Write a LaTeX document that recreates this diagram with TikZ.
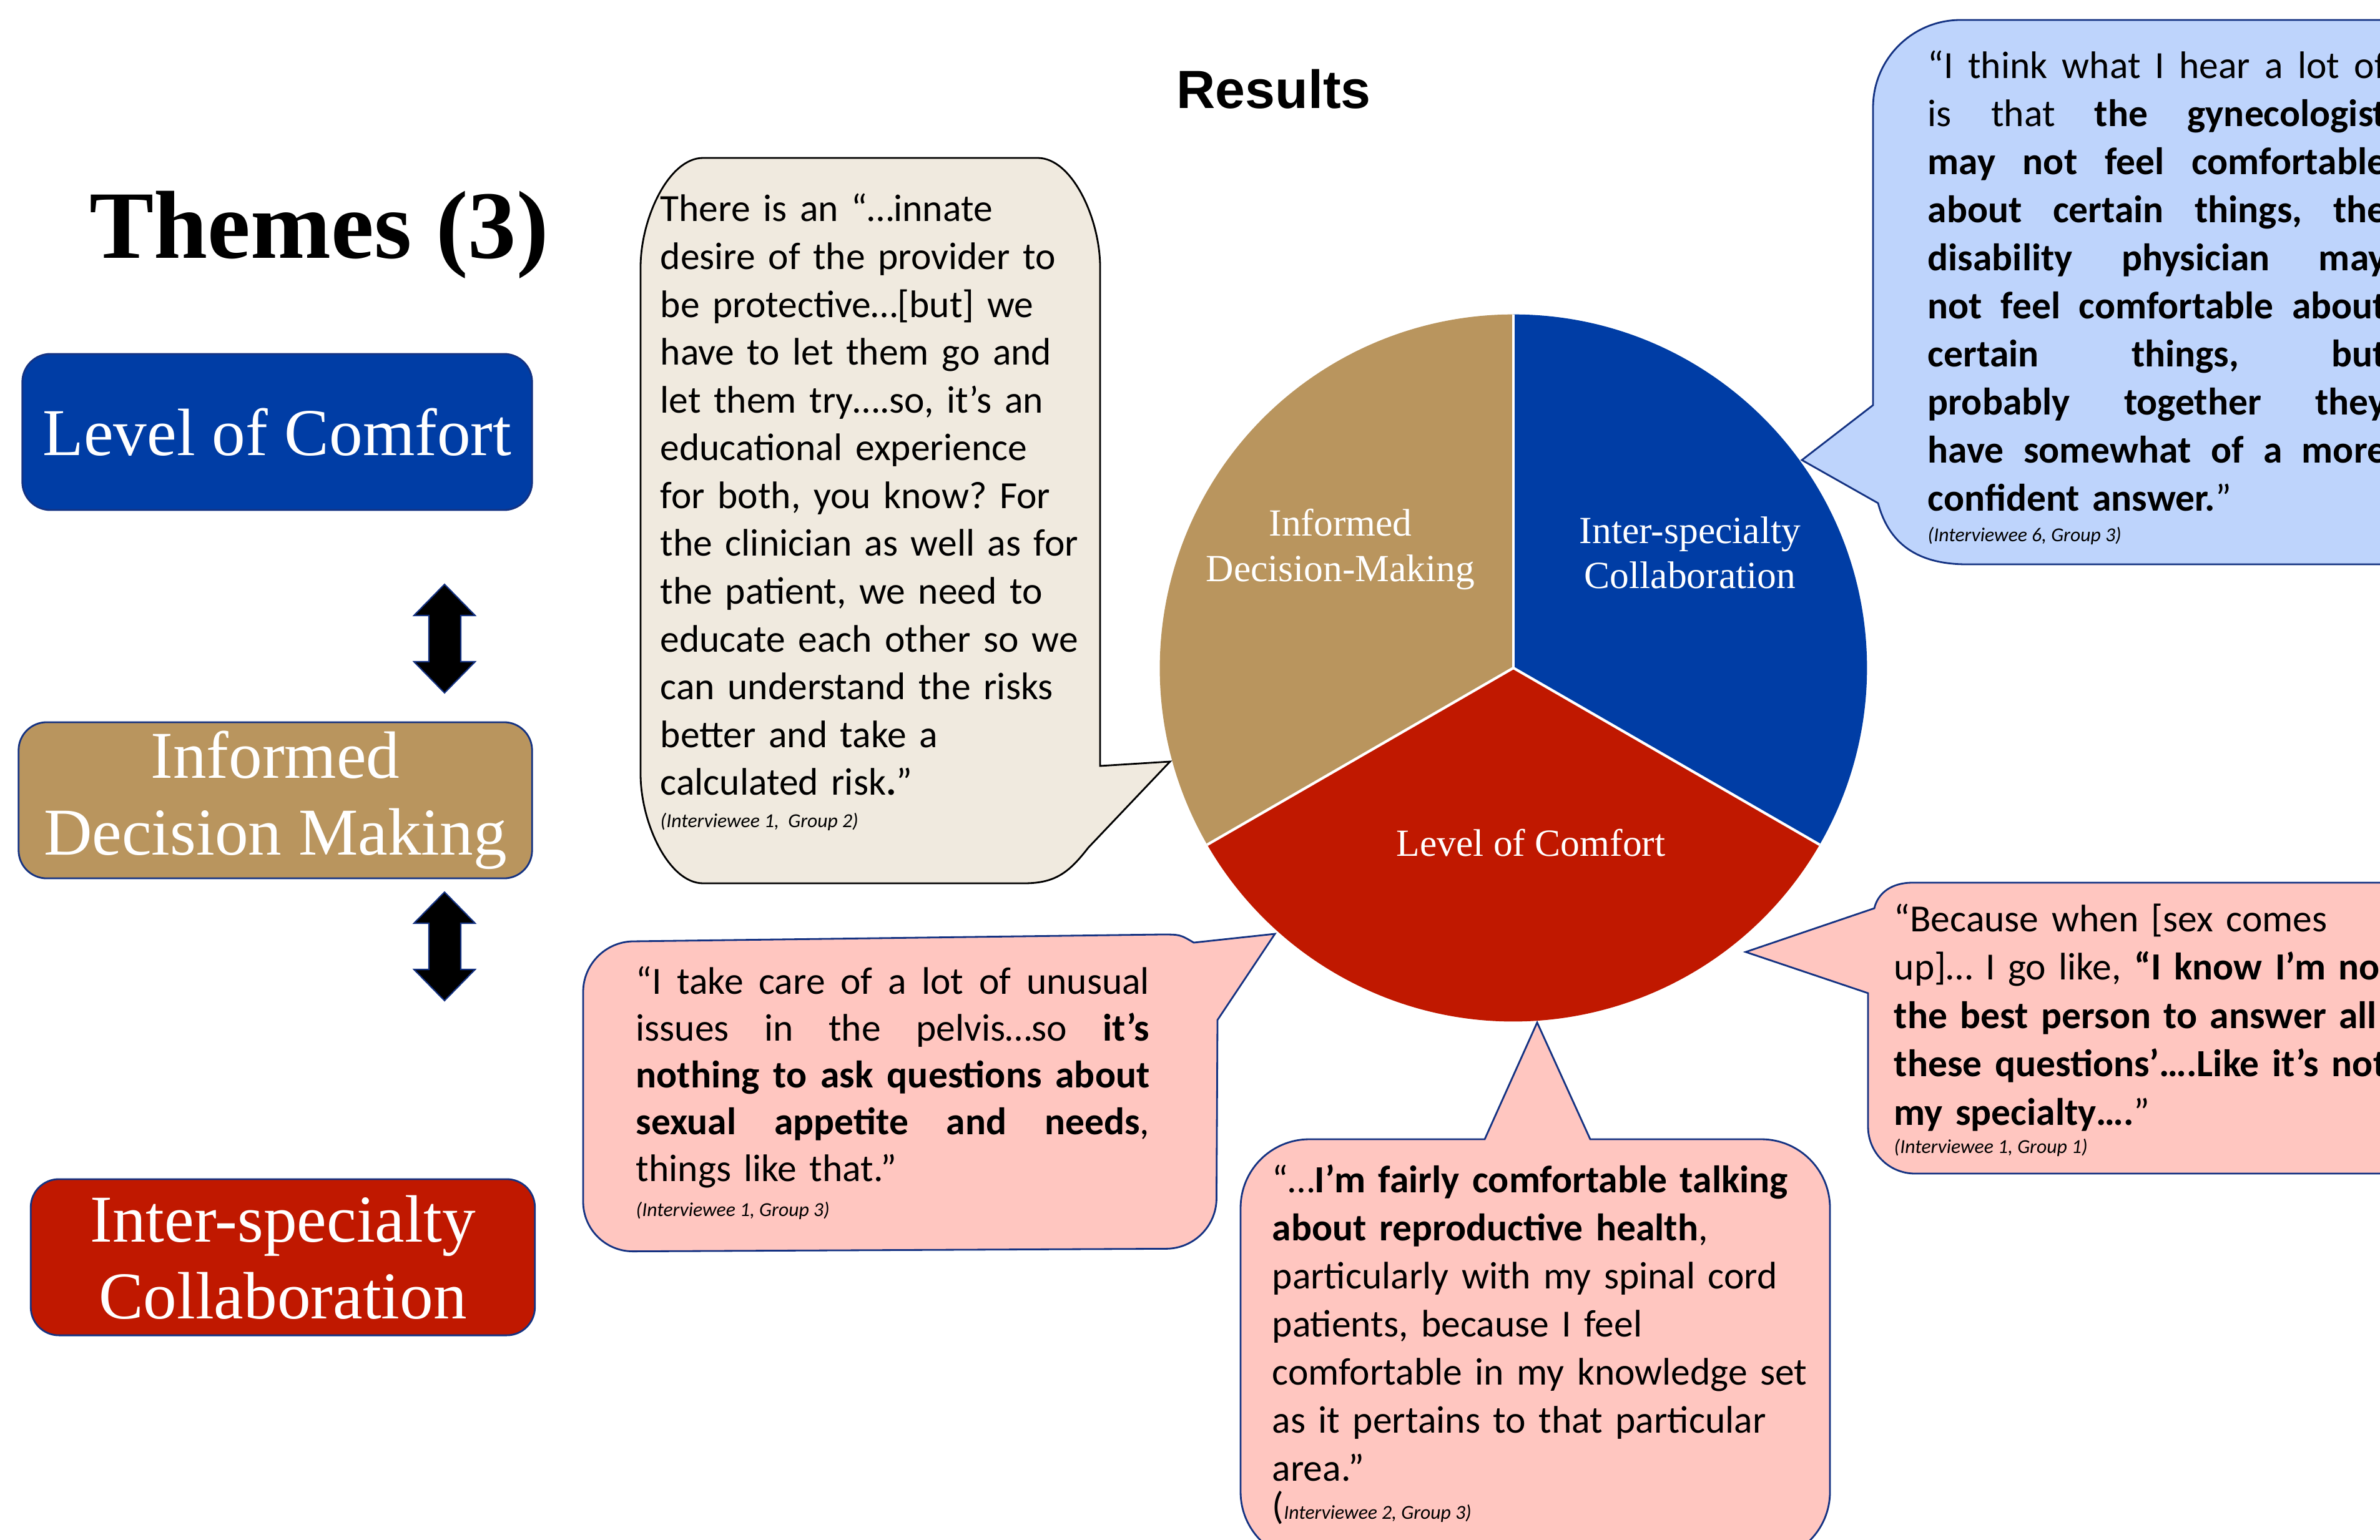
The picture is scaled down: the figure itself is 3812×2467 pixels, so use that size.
\documentclass[tikz,border=0pt]{standalone}
\usepackage{fontspec}
\newfontfamily\quotefont{Carlito}
\newfontfamily\themefont{Liberation Serif}
\newfontfamily\headfont{Liberation Sans}
\definecolor{pieblue}{RGB}{0,61,165}
\definecolor{piered}{RGB}{192,24,0}
\definecolor{pietan}{RGB}{185,149,94}
\definecolor{tanbg}{RGB}{240,234,223}
\definecolor{bluebg}{RGB}{190,212,252}
\definecolor{pinkbg}{RGB}{255,198,192}
\definecolor{navy}{RGB}{20,50,130}
\newcommand{\jl}[2]{\leavevmode\hbox to #1{\spaceskip=0.226em plus 1fil\relax #2}}
\begin{document}
\begin{tikzpicture}[x=0.01cm,y=-0.01cm,
  themebox/.style={draw=navy, line width=0.8pt, rounded corners=0.45cm, text=white, align=center, inner sep=0pt, minimum height=2.5cm, font=\themefont\fontsize{30.5pt}{35pt}\selectfont},
  pielabel/.style={text=white, align=center, inner sep=0pt, font=\themefont\fontsize{17.5pt}{20.5pt}\selectfont},
  quotetext/.style={anchor=base west, inner sep=0pt, font=\quotefont\fontsize{17.5pt}{#1}\selectfont\frenchspacing},
  citetext/.style={anchor=base west, inner sep=0pt, font=\quotefont\itshape\fontsize{9pt}{11pt}\selectfont},
  bubble/.style={draw=navy, line width=0.8pt}]
\useasboundingbox (0,0) rectangle (3812,2467);
\clip (0,0) rectangle (3812,2467);

\node[anchor=base west, inner sep=0pt, font=\themefont\bfseries\fontsize{44pt}{48pt}\selectfont] (themes) at (143,413) {Themes (3)};
\node[inner sep=0pt, font=\headfont\bfseries\fontsize{24.5pt}{28pt}\selectfont] (results) at (2040,143) {Results};

\node[themebox, fill=pieblue, minimum width=8.16cm] (boxcomfort) at (444,692) {Level of Comfort};
\node[themebox, fill=pietan, minimum width=8.22cm] (boxidm) at (441,1282) {Informed\\Decision Making};
\node[themebox, fill=piered, minimum width=8.07cm] (boxcollab) at (453,2014) {Inter-specialty\\Collaboration};
\foreach \y in {936,1429}
  \draw[fill=black, draw=navy, line width=0.6pt] (712,\y) -- (761,\y+50) -- (738,\y+50) -- (738,\y+124) -- (761,\y+124) -- (712,\y+174) -- (663,\y+124) -- (687,\y+124) -- (687,\y+50) -- (663,\y+50) -- cycle;

\coordinate (pc) at (2424,1070);
\fill[pieblue] (pc) -- ++(90:5.66cm) arc[start angle=90, end angle=-30, radius=5.66cm] -- cycle;
\fill[piered] (pc) -- ++(-30:5.66cm) arc[start angle=-30, end angle=-150, radius=5.66cm] -- cycle;
\fill[pietan] (pc) -- ++(210:5.66cm) arc[start angle=210, end angle=90, radius=5.66cm] -- cycle;
\foreach \a in {90,-30,210}
  \draw[white, line width=1.2pt] (pc) -- ++(\a:5.66cm);
\node[pielabel] (pieidm) at (2147,880) {Informed\\Decision-Making};
\node[pielabel] (piecollab) at (2707,885) {Inter-specialty\\Collaboration};
\node[pielabel] (piecomfort) at (2452,1350) {Level of Comfort};

\coordinate (tipidm) at (1874,1220);
\coordinate (tipcollab) at (2886,737);
\coordinate (tipleft) at (2042,1496);
\coordinate (tipbottom) at (2462,1638);
\coordinate (tipright) at (2796,1525);

\draw[fill=tanbg, draw=black, line width=0.8pt] (1126,253) -- (1662,253) .. controls (1717,253) and (1762,350) .. (1762,428) -- (1762,1227) -- (tipidm) -- (1743,1358) .. controls (1712,1398) and (1690,1415) .. (1640,1415) -- (1126,1415) .. controls (1071,1415) and (1026,1318) .. (1026,1240) -- (1026,428) .. controls (1026,350) and (1071,253) .. (1126,253) -- cycle;
\draw[bubble, fill=bluebg] (3900,32) [rounded corners=1.4cm] -- (3000,32) [sharp corners] -- (3000,649) -- (tipcollab) -- (3008,806) .. controls (3025,870) and (3070,904) .. (3150,904) -- (3900,904) -- cycle;
\draw[bubble, fill=pinkbg] (1400,1503) [rounded corners=0.8cm] -- (934,1509) -- (934,2005) -- (1948,2000) [sharp corners] -- (1950,1634) -- (tipleft) -- (1912,1510) .. controls (1890,1497) .. (1860,1497) -- cycle;
\draw[bubble, fill=pinkbg] (2200,1825) [rounded corners=1.1cm] -- (1987,1825) -- (1987,2500) -- (2931,2500) -- (2931,1825) [sharp corners] -- (2547,1825) -- (tipbottom) -- (2378,1825) -- cycle;
\draw[bubble, fill=pinkbg] (3900,1414) -- (3063,1414) .. controls (3030,1414) and (3008,1430) .. (3002,1455) -- (tipright) -- (2992,1591) [rounded corners=0.75cm] -- (2992,1880) -- (3900,1880) -- cycle;

\node[quotetext=21.77pt, text width=7cm] (quoteidm) at (1057,355) {There is an “…innate\\desire of the provider to\\be protective…[but] we\\have to let them go and\\let them try….so, it’s an\\educational experience\\for both, you know? For\\the clinician as well as for\\the patient, we need to\\educate each other so we\\can understand the risks\\better and take a\\calculated risk\textbf{.}”};
\node[citetext] (citeidm) at (1057,1325) {(Interviewee 1,\ \ Group 2)};

\node[quotetext=21.88pt, text width=7.34cm] (quotecollab) at (3087,126) {\jl{7.34cm}{“I think what I hear a lot of}\\\jl{7.34cm}{is that \textbf{the gynecologist}}\\\jl{7.34cm}{\textbf{may not feel comfortable}}\\\jl{7.34cm}{\textbf{about certain things, the}}\\\jl{7.34cm}{\textbf{disability physician may}}\\\jl{7.34cm}{\textbf{not feel comfortable about}}\\\jl{7.34cm}{\textbf{certain things, but}}\\\jl{7.34cm}{\textbf{probably together they}}\\\jl{7.34cm}{\textbf{have somewhat of a more}}\\\textbf{confident answer.}”};
\node[citetext] (citecollab) at (3087,867) {(Interviewee 6, Group 3)};

\node[quotetext=21.34pt, text width=8.22cm] (quoteleft) at (1018,1592) {\jl{8.22cm}{“I take care of a lot of unusual}\\\jl{8.22cm}{issues in the pelvis…so \textbf{it’s}}\\\jl{8.22cm}{\textbf{nothing to ask questions about}}\\\jl{8.22cm}{\textbf{sexual appetite and needs},}\\things like that.”};
\node[citetext] (citeleft) at (1018,1948) {(Interviewee 1, Group 3)};

\node[quotetext=21.9pt, text width=8.9cm] (quotebottom) at (2037,1910) {“…\textbf{I’m fairly comfortable talking}\\\textbf{about reproductive health},\\particularly with my spinal cord\\patients, because I feel\\comfortable in my knowledge set\\as it pertains to that particular\\area.”};
\node[citetext] (citebottom) at (2037,2433) {{\upshape\fontsize{17.5pt}{20pt}\selectfont(}Interviewee 2, Group 3)};

\node[quotetext=22.05pt, text width=9cm] (quoteright) at (3033,1492) {“Because when [sex comes\\up]… I go like, \textbf{“I know I’m not}\\\textbf{the best person to answer all}\\\textbf{these questions’….Like it’s not}\\\textbf{my specialty….}”};
\node[citetext] (citeright) at (3033,1847) {(Interviewee 1, Group 1)};
\end{tikzpicture}
\end{document}
